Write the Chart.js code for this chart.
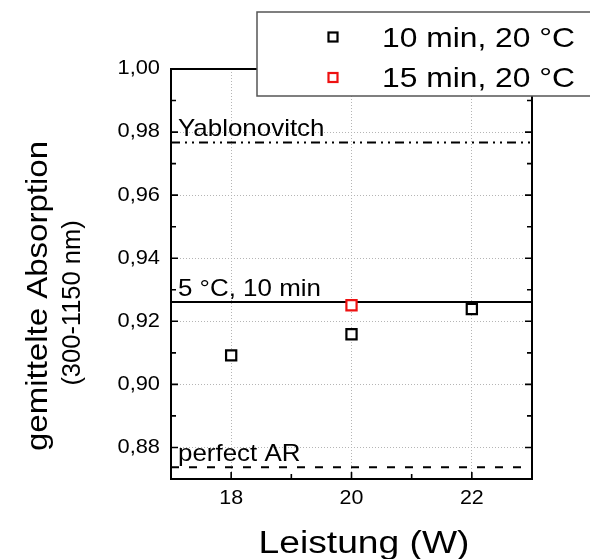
<!DOCTYPE html>
<html>
<head>
<meta charset="utf-8">
<script src="https://cdn.jsdelivr.net/npm/chart.js@4.4.1/dist/chart.umd.min.js"></script>
<style>
html,body{margin:0;padding:0;background:#fff;}
canvas{display:block;}
</style>
</head>
<body>
<canvas id="c" width="590" height="559"></canvas>
<script>
// ---- data ----
const seriesNames = ['10 min, 20 °C', '15 min, 20 °C'];
const series1X = [18, 20, 22];
const series1Y = [0.9092, 0.9159, 0.9239];
const series2X = [20];
const series2Y = [0.9251];
const refNames = ['Yablonovitch', '5 °C, 10 min', 'perfect AR'];
const refValues = [0.9767, 0.9261, 0.8737];
const xTickValues = [18, 20, 22];
const xMinorValues = [19, 21];
const yTickValues = [0.88, 0.90, 0.92, 0.94, 0.96, 0.98, 1.00];
const yMinorValues = [0.89, 0.91, 0.93, 0.95, 0.97, 0.99];
const xRange = [17, 23];
const yRange = [0.87, 1.00];
const xTitle = 'Leistung (W)';
const yTitle = ['gemittelte Absorption', '(300-1150 nm)'];

const FONT = "'Liberation Sans', Arial, sans-serif";
const refDashes = [[9,5,2,5,2,5], [], [8,10]];

const datasets = [
  {label: seriesNames[0], type: 'scatter', order: 0,
   data: series1X.map((x,i)=>({x, y: series1Y[i]})),
   pointStyle: 'rect', pointRadius: 7.2, borderColor: '#000', backgroundColor: '#fff', pointBorderWidth: 2.2, borderWidth: 2.2},
  {label: seriesNames[1], type: 'scatter', order: 0,
   data: series2X.map((x,i)=>({x, y: series2Y[i]})),
   pointStyle: 'rect', pointRadius: 7.2, borderColor: '#ee1111', backgroundColor: '#fff', pointBorderWidth: 2.2, borderWidth: 2.2}
];
refValues.forEach((v,i)=>{
  datasets.push({label: refNames[i], type: 'line', order: 1,
    data: [{x: xRange[0], y: v}, {x: xRange[1], y: v}],
    borderColor: '#000', borderWidth: 2, borderDash: refDashes[i], pointRadius: 0, fill: false});
});

function txt(ctx, s, x, y, size, align, baseline, sx, rot) {
  ctx.save();
  ctx.font = size + 'px ' + FONT;
  ctx.textAlign = align;
  ctx.textBaseline = baseline;
  ctx.fillStyle = '#000';
  ctx.translate(x, y);
  if (rot) ctx.rotate(rot);
  ctx.scale(sx, 1);
  ctx.fillText(s, 0, 0);
  ctx.restore();
}

const decor = {
  id: 'decor',
  afterDatasetsDraw(chart) {
    const ctx = chart.ctx, a = chart.chartArea;
    const xs = chart.scales.x, ys = chart.scales.y;
    ctx.save();
    // reference line labels
    refValues.forEach((v,i)=>{
      txt(ctx, refNames[i], a.left + 7, ys.getPixelForValue(v) - 6, 24, 'left', 'alphabetic', 1.08);
    });
    // frame
    ctx.strokeStyle = '#000';
    ctx.lineWidth = 2;
    ctx.beginPath();
    ctx.rect(a.left, a.top, a.right - a.left, a.bottom - a.top);
    ctx.stroke();
    // inward ticks
    ctx.lineWidth = 1.6;
    ctx.beginPath();
    const yt = (vals, len) => vals.forEach(v=>{
      const p = ys.getPixelForValue(v);
      ctx.moveTo(a.left, p); ctx.lineTo(a.left + len, p);
      ctx.moveTo(a.right, p); ctx.lineTo(a.right - len, p);
    });
    yt(yTickValues, 7); yt(yMinorValues, 5);
    const xt = (vals, len) => vals.forEach(v=>{
      const p = xs.getPixelForValue(v);
      ctx.moveTo(p, a.bottom); ctx.lineTo(p, a.bottom - len);
    });
    xt(xTickValues, 7); xt(xMinorValues, 5);
    ctx.stroke();
    // tick labels
    yTickValues.forEach(v=>{
      txt(ctx, v.toFixed(2).replace('.', ','), a.left - 11, ys.getPixelForValue(v), 19.5, 'right', 'middle', 1.12);
    });
    xTickValues.forEach(v=>{
      txt(ctx, String(v), xs.getPixelForValue(v), a.bottom + 25, 19.5, 'center', 'alphabetic', 1.1);
    });
    // axis titles
    txt(ctx, xTitle, 364, 553, 31, 'center', 'alphabetic', 1.2);
    txt(ctx, yTitle[0], 46.5, 296, 30, 'center', 'alphabetic', 1.1, -Math.PI/2);
    txt(ctx, yTitle[1], 80, 303, 26, 'center', 'alphabetic', 0.98, -Math.PI/2);
    // legend
    ctx.fillStyle = '#fff';
    ctx.fillRect(257, 12, 400, 84);
    ctx.strokeStyle = '#555';
    ctx.lineWidth = 1.5;
    ctx.strokeRect(257, 12, 400, 84);
    const rows = [37, 77.5];
    const bases = [46.5, 87];
    [0,1].forEach(i=>{
      const ds = chart.data.datasets[i];
      ctx.strokeStyle = ds.borderColor;
      ctx.lineWidth = 2.2;
      ctx.strokeRect(333 - 4.5, rows[i] - 4.5, 9, 9);
      txt(ctx, ds.label, 382, bases[i], 28, 'left', 'alphabetic', 1.135);
    });
    ctx.restore();
  }
};

new Chart(document.getElementById('c'), {
  type: 'scatter',
  data: {datasets},
  options: {
    responsive: false,
    animation: false,
    devicePixelRatio: 1,
    layout: {padding: {top: 69, right: 58, left: 0, bottom: 0}},
    plugins: {legend: {display: false}, tooltip: {enabled: false}},
    scales: {
      x: {
        type: 'linear', min: xRange[0], max: xRange[1],
        afterBuildTicks: s => { s.ticks = xTickValues.map(v=>({value: v})); },
        afterFit: s => { s.height = 80; },
        grid: {color: '#b5b5b5', lineWidth: 1, drawTicks: false},
        border: {display: false, dash: [1,2]},
        ticks: {display: false}
      },
      y: {
        type: 'linear', min: yRange[0], max: yRange[1],
        afterBuildTicks: s => { s.ticks = yTickValues.map(v=>({value: v})); },
        afterFit: s => { s.width = 171; },
        grid: {color: '#b5b5b5', lineWidth: 1, drawTicks: false},
        border: {display: false, dash: [1,2]},
        ticks: {display: false}
      }
    }
  },
  plugins: [decor]
});
</script>
</body>
</html>
